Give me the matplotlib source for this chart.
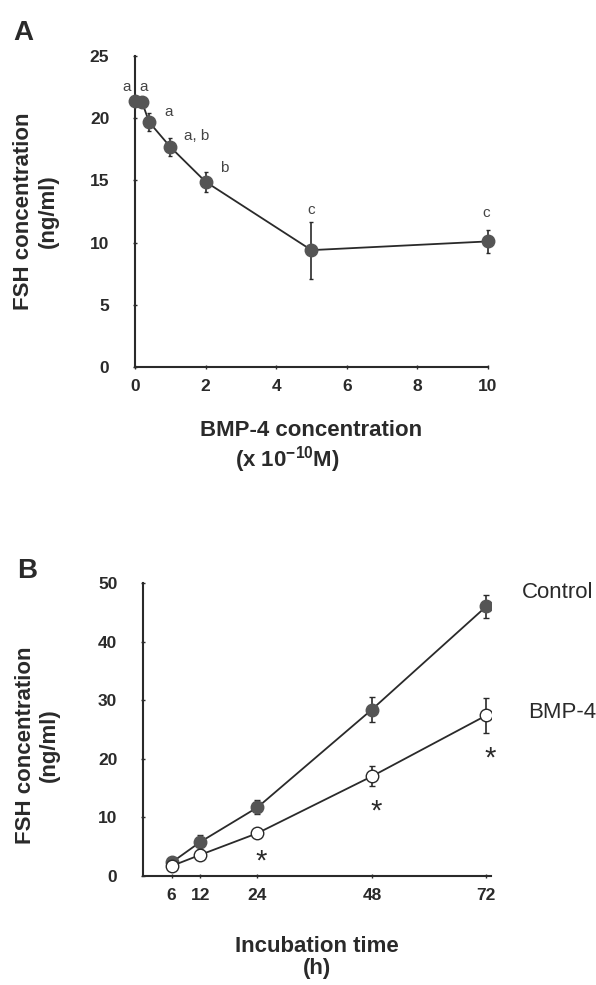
import matplotlib
matplotlib.use("Agg")
import matplotlib.pyplot as plt

plt.rcParams['font.family'] = ['Liberation Sans', 'DejaVu Sans']
plt.rcParams['mathtext.fontset'] = 'custom'
plt.rcParams['mathtext.rm'] = 'Liberation Sans:bold'
plt.rcParams['mathtext.bf'] = 'Liberation Sans:bold'

# Panel A: dose response
dose = [0, 0.2, 0.4, 1, 2, 5, 10]
fsh_dose = [21.4, 21.3, 19.7, 17.7, 14.9, 9.4, 10.1]
fsh_dose_err = [0.0, 0.0, 0.7, 0.7, 0.8, 2.3, 0.9]
dose_letters = ['a', 'a', 'a', 'a, b', 'b', 'c', 'c']

# Panel B: time course
hours = [6, 12, 24, 48, 72]
control = [2.3, 5.8, 11.7, 28.4, 46.0]
control_err = [0.5, 1.2, 1.2, 2.1, 2.0]
bmp4 = [1.7, 3.6, 7.3, 17.0, 27.4]
bmp4_err = [0.4, 0.5, 0.6, 1.7, 3.0]
star_hours = [24, 48, 72]

ink = '#2a2a2a'
dot = '#555555'

fig = plt.figure(figsize=(5.96, 9.85), dpi=100)

# ---- A ----
axA = fig.add_axes([0.2265, 0.6274, 0.592, 0.3156])
axA.errorbar(dose, fsh_dose, yerr=fsh_dose_err, color=ink, lw=1.3,
             marker='o', ms=9, mfc=dot, mec=dot, ecolor=ink, elinewidth=1.2,
             capsize=1.5, clip_on=False, zorder=3)
axA.set_xlim(0, 10)
axA.set_ylim(0, 25)
axA.set_xticks([0, 2, 4, 6, 8, 10])
axA.set_yticks([0, 5, 10, 15, 20, 25])
# letter offsets (dx, dy) from each point, in data units
offsets = [(-0.23, 1.1), (0.05, 1.2), (0.54, 0.8), (0.76, 0.9), (0.54, 1.1), (0.0, 3.2), (-0.05, 2.3)]
for x, y, lab, (dx, dy) in zip(dose, fsh_dose, dose_letters, offsets):
    axA.text(x + dx, y + dy, lab, ha='center', va='center', fontsize=11, color='#444444')
axA.set_ylabel('FSH concentration\n(ng/ml)', fontsize=16, fontweight='bold', color=ink)
axA.yaxis.set_label_coords(-0.217, 0.5)
axA.set_xlabel('BMP-4 concentration', fontsize=16, fontweight='bold', color=ink)
axA.xaxis.set_label_coords(0.5, -0.172)
axA.text(0.433, -0.299, r'(x 10$^{-10}$M)', transform=axA.transAxes, ha='center', va='center',
         fontsize=16, fontweight='bold', color=ink)
fig.text(0.022, 0.966, 'A', fontsize=20, fontweight='bold', color=ink, va='center')

# ---- B ----
axB = fig.add_axes([0.240, 0.1107, 0.584, 0.2975])
axB.errorbar(hours, control, yerr=control_err, color=ink, lw=1.3,
             marker='o', ms=9, mfc=dot, mec=dot, ecolor=ink, elinewidth=1.2,
             capsize=2, zorder=3)
axB.errorbar(hours, bmp4, yerr=bmp4_err, color=ink, lw=1.3,
             marker='o', ms=9, mfc='white', mec=ink, mew=1.0, ecolor=ink, elinewidth=1.2,
             capsize=2, zorder=4)
for h in star_hours:
    i = hours.index(h)
    axB.text(h + 0.8, bmp4[i] - bmp4_err[i] - 4.3, '*', ha='center', va='center',
             fontsize=21, color=ink)
axB.set_xlim(0, 73)
axB.set_ylim(0, 50)
axB.set_xticks([6, 12, 24, 48, 72])
axB.set_yticks([0, 10, 20, 30, 40, 50])
fig.text(0.876, 0.398, 'Control', fontsize=16, color=ink, va='center')
fig.text(0.886, 0.277, 'BMP-4', fontsize=16, color=ink, va='center')
axB.set_ylabel('FSH concentration\n(ng/ml)', fontsize=16, fontweight='bold', color=ink)
axB.yaxis.set_label_coords(-0.239, 0.445)
axB.set_xlabel('Incubation time\n(h)', fontsize=16, fontweight='bold', color=ink, linespacing=1.05)
axB.xaxis.set_label_coords(0.5, -0.205)
fig.text(0.028, 0.42, 'B', fontsize=20, fontweight='bold', color=ink, va='center')

for ax in (axA, axB):
    ax.spines['top'].set_visible(False)
    ax.spines['right'].set_visible(False)
    ax.spines['left'].set_linewidth(1.5)
    ax.spines['bottom'].set_linewidth(1.5)
    ax.spines['left'].set_color(ink)
    ax.spines['bottom'].set_color(ink)
    ax.tick_params(direction='inout', length=3, width=1, colors=ink, labelsize=12.5)
    ax.xaxis.set_tick_params(pad=7)
    ax.yaxis.set_tick_params(pad=17)
    for t in ax.get_xticklabels() + ax.get_yticklabels():
        t.set_fontweight('bold')

fig.savefig('out.png', dpi=100)
